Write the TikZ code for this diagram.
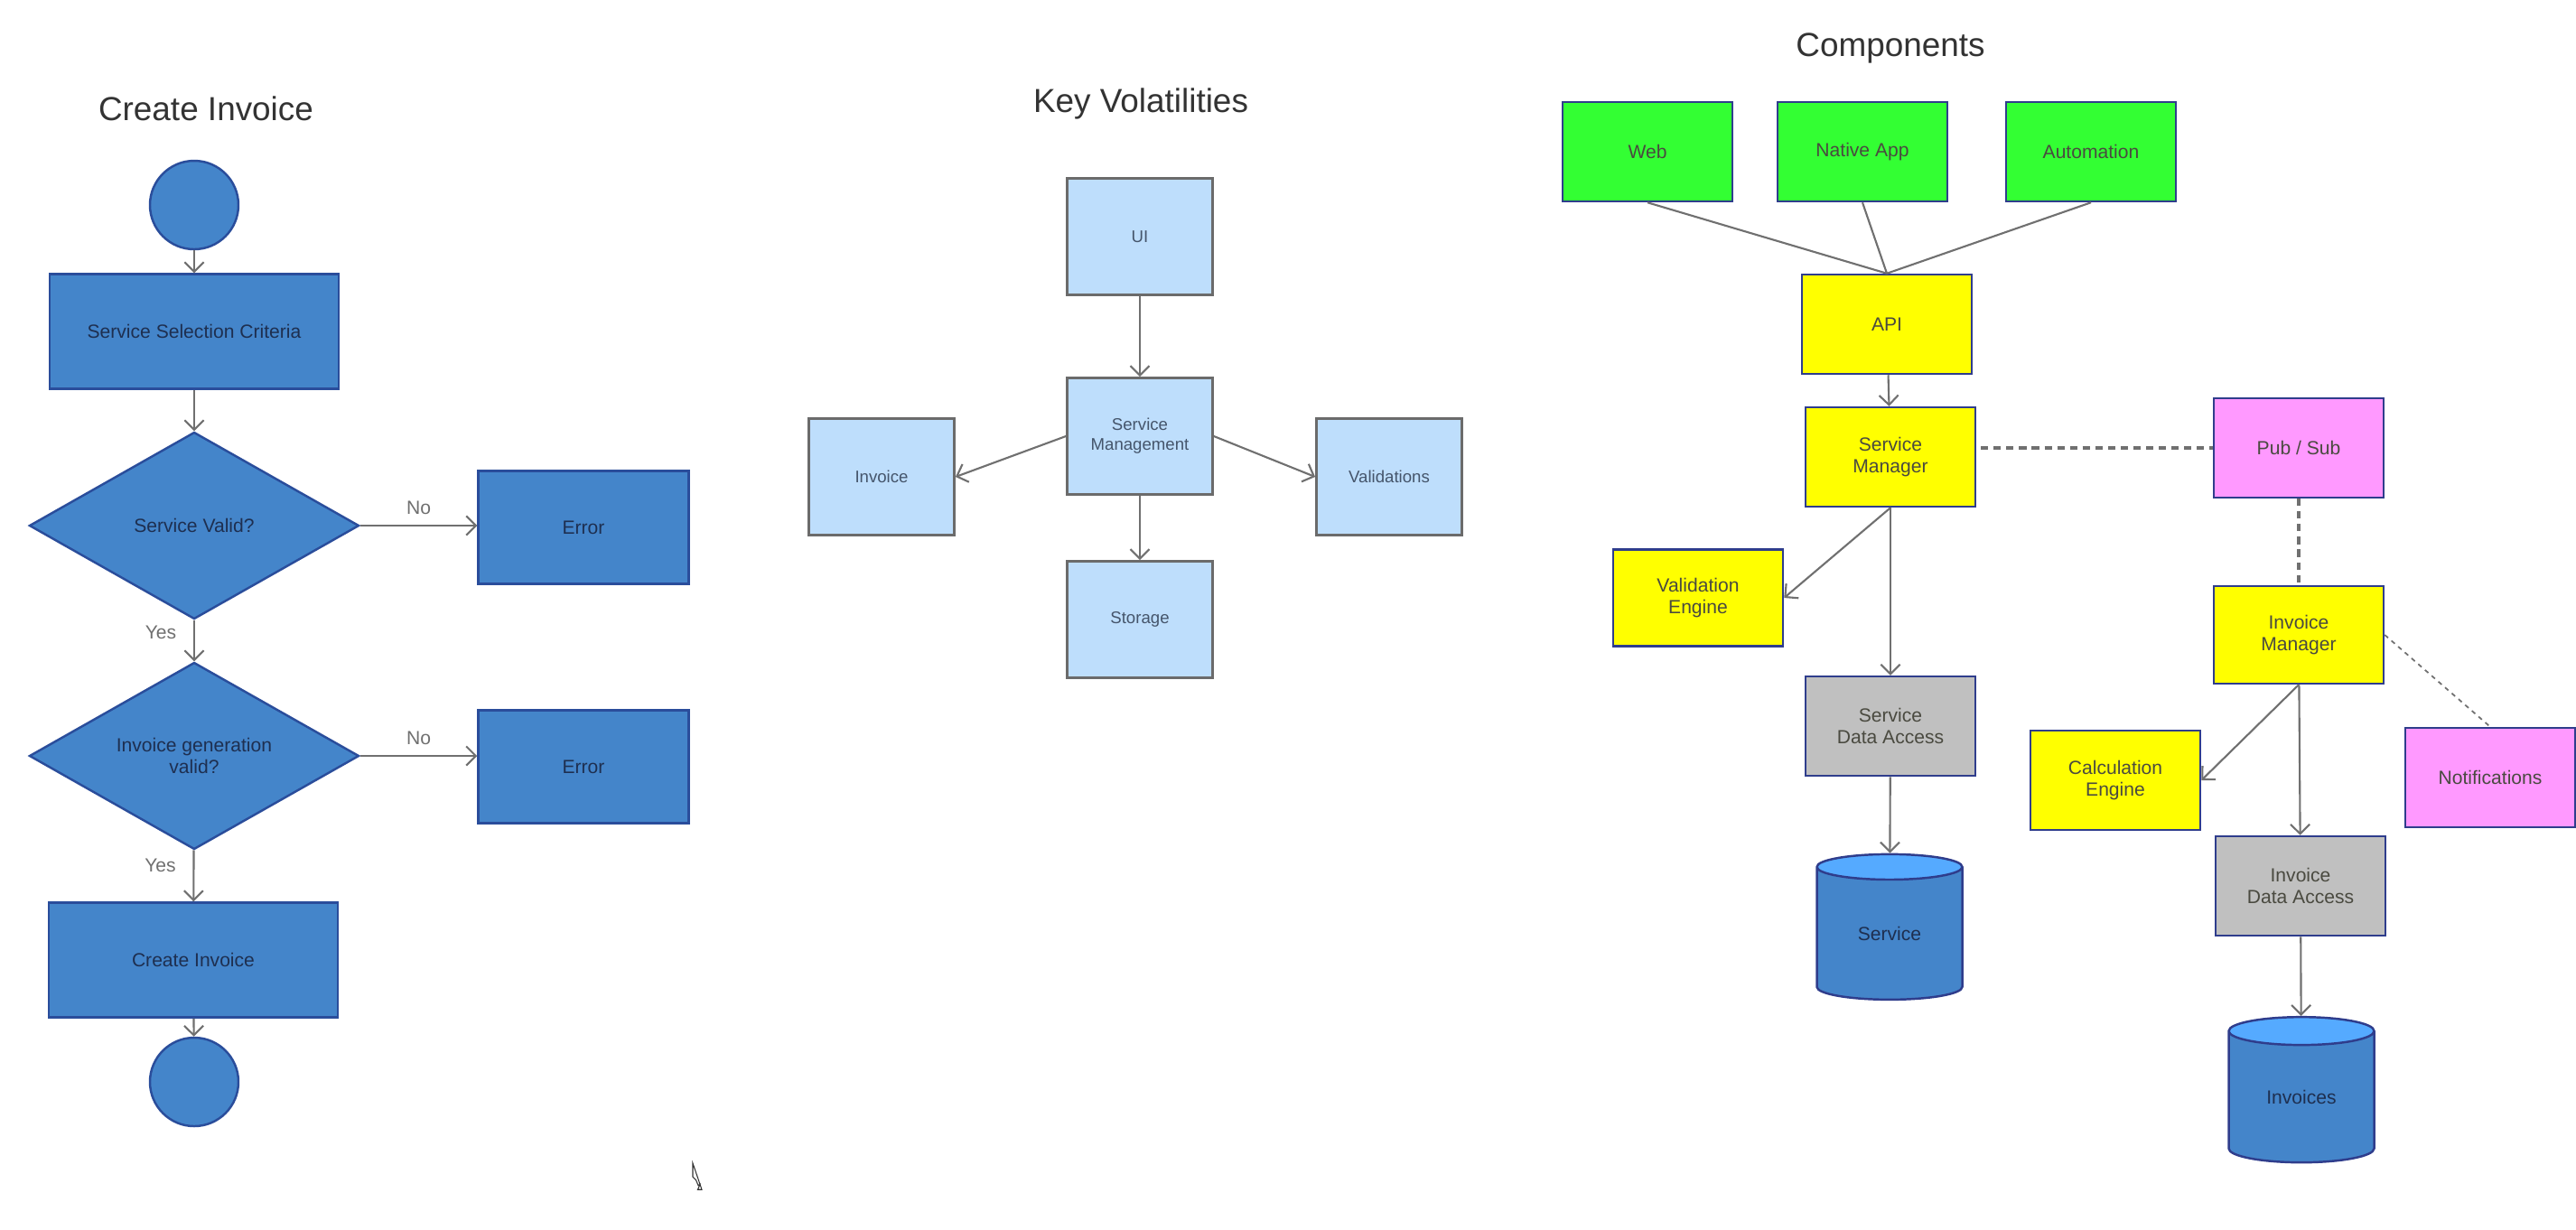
\documentclass[tikz,border=0pt]{standalone}
\usepackage{fontspec}
\setmainfont{Liberation Sans}
\usetikzlibrary{shapes.geometric}
\usetikzlibrary{arrows.meta}

\definecolor{flowblue}{HTML}{4485CA}
\definecolor{flowedge}{HTML}{2A4D9B}
\definecolor{flowtext}{HTML}{1E2F50}
\definecolor{volfill}{HTML}{BEDEFC}
\definecolor{voledge}{HTML}{6B6B6B}
\definecolor{voltext}{HTML}{45556B}
\definecolor{compedge}{HTML}{2F3D8C}
\definecolor{compgreen}{HTML}{33FF33}
\definecolor{compyellow}{HTML}{FFFF00}
\definecolor{comppink}{HTML}{FF99FF}
\definecolor{compgray}{HTML}{C0C0C0}
\definecolor{comptext}{HTML}{4A4A40}
\definecolor{dbtop}{HTML}{55AAFF}
\definecolor{linkgray}{HTML}{707070}
\definecolor{titlegray}{HTML}{333333}

\begin{document}
\begin{tikzpicture}[>={Straight Barb[length=3pt,width=6pt]}]

		\tikzset{
			title/.style={font=\fontsize{10.5}{12}\selectfont, text=titlegray},
			flowbox/.style={draw=flowedge, fill=flowblue, line width=0.7pt, text=flowtext,
				font=\fontsize{6}{7}\selectfont, align=center, inner sep=0pt,
				minimum width=3.2cm, minimum height=1.27cm},
			flowdiamond/.style={flowbox, diamond, aspect=1.76,
				minimum width=3.65cm, minimum height=2.07cm},
			flowterm/.style={flowbox, circle, minimum size=0.98cm},
			errbox/.style={flowbox, minimum width=2.33cm, minimum height=1.25cm},
			volbox/.style={draw=voledge, fill=volfill, line width=0.8pt, text=voltext,
				font=\fontsize{5.3}{6.3}\selectfont, align=center, inner sep=0pt,
				minimum width=1.61cm, minimum height=1.29cm},
			compbox/.style={draw=compedge, line width=0.7pt, text=comptext,
				font=\fontsize{6}{7}\selectfont, align=center, inner sep=0pt,
				minimum width=1.88cm, minimum height=1.1cm},
			dbcyl/.style={cylinder, shape border rotate=90, aspect=0.4, draw=compedge,
				line width=0.7pt, cylinder uses custom fill, cylinder end fill=dbtop,
				cylinder body fill=flowblue, text=flowtext, font=\fontsize{6}{7}\selectfont,
				inner sep=0pt, minimum width=1.61cm, minimum height=1.61cm},
			link/.style={draw=linkgray, line width=0.6pt},
			label/.style={text=linkgray, font=\fontsize{6}{7}\selectfont},
			dashlink/.style={draw=linkgray, line width=0.9pt, dash pattern=on 2.3pt off 1.7pt},
			dotlink/.style={draw=linkgray, line width=0.5pt, dash pattern=on 1.4pt off 1.4pt},
		}

		\fill [white] (0,0) rectangle (28.52,-13.61);
		\useasboundingbox (0,0) rectangle (28.52,-13.61);

		% create invoice flow
		\node [title] (title1) at (2.28,-1.20) {Create Invoice};
		\node [flowterm] (start) at (2.15,-2.27) {};
		\node [flowbox] (ssc) at (2.15,-3.67) {Service Selection Criteria};
		\node [flowdiamond] (valid) at (2.15,-5.82) {Service Valid?};
		\node [errbox] (err1) at (6.46,-5.84) {Error};
		\node [flowdiamond] (gen) at (2.15,-8.37) {Invoice generation\\valid?};
		\node [errbox] (err2) at (6.46,-8.49) {Error};
		\node [flowbox] (create) at (2.14,-10.63) {Create Invoice};
		\node [flowterm] (stop) at (2.15,-11.98) {};

		\draw [link, ->] (start) -- (ssc);
		\draw [link, ->] (ssc) -- (valid);
		\draw [link, ->] (valid.east) -- (valid.east -| err1.west) node [label, midway, above] {No};
		\draw [link, ->] (valid) -- (gen) node [label, pos=0.3, left=2pt] {Yes};
		\draw [link, ->] (gen.east) -- (gen.east -| err2.west) node [label, midway, above] {No};
		\draw [link, ->] (gen) -- (create) node [label, pos=0.3, left=2pt] {Yes};
		\draw [link, ->] (create) -- (stop);

		% mouse pointer
		\draw [fill=white, draw=titlegray, line width=0.3pt] (7.67,-12.88) -- ++(0,-0.15) -- ++(0.035,-0.035)
			-- ++(0.025,-0.06) -- ++(0.02,0.01) -- ++(-0.025,-0.057) -- ++(0.045,0) -- cycle;

		% key volatilities
		\node [title] (title2) at (12.63,-1.15) {Key Volatilities};
		\node [volbox] (ui) at (12.62,-2.62) {UI};
		\node [volbox] (svcmgmt) at (12.62,-4.83) {Service\\Management};
		\node [volbox] (inv) at (9.76,-5.28) {Invoice};
		\node [volbox] (valids) at (15.38,-5.28) {Validations};
		\node [volbox] (storage) at (12.62,-6.86) {Storage};

		\draw [link, ->] (ui) -- (svcmgmt);
		\draw [link, ->] (svcmgmt.west) -- (inv.east);
		\draw [link, ->] (svcmgmt.east) -- (valids.west);
		\draw [link, ->] (svcmgmt) -- (storage);

		% components
		\node [title] (title3) at (20.93,-0.53) {Components};
		\node [compbox, fill=compgreen] (web) at (18.24,-1.68) {Web};
		\node [compbox, fill=compgreen] (native) at (20.62,-1.68) {Native App};
		\node [compbox, fill=compgreen] (auto) at (23.15,-1.68) {Automation};
		\node [compbox, fill=compyellow] (api) at (20.89,-3.59) {API};
		\node [compbox, fill=compyellow] (svcmgr) at (20.93,-5.06) {Service\\Manager};
		\node [compbox, fill=comppink] (pubsub) at (25.45,-4.96) {Pub / Sub};
		\node [compbox, fill=compyellow, minimum height=1.07cm] (valeng) at (18.80,-6.62) {Validation\\Engine};
		\node [compbox, fill=compyellow, minimum height=1.08cm] (invmgr) at (25.45,-7.03) {Invoice\\Manager};
		\node [compbox, fill=compgray] (sda) at (20.93,-8.04) {Service\\Data Access};
		\node [compbox, fill=compyellow] (calc) at (23.42,-8.64) {Calculation\\Engine};
		\node [compbox, fill=comppink] (notif) at (27.57,-8.61) {Notifications};
		\node [compbox, fill=compgray] (ida) at (25.47,-9.81) {Invoice\\Data Access};
		\node [dbcyl] (svcdb) at (20.92,-10.34) {Service};
		\node [dbcyl] (invdb) at (25.48,-12.15) {Invoices};

		\draw [link] (web.south) -- (api.north);
		\draw [link] (native.south) -- (api.north);
		\draw [link] (auto.south) -- (api.north);
		\draw [link, ->] (api) -- (svcmgr);
		\draw [link, ->] (svcmgr.south) -- (valeng.east);
		\draw [link, ->] (svcmgr) -- (sda);
		\draw [link, ->] (sda) -- (svcdb);
		\draw [dashlink] (pubsub.west -| svcmgr.east) ++(0.05,0) -- (pubsub.west);
		\draw [dashlink] (pubsub) -- (invmgr);
		\draw [dotlink] (invmgr.east) -- (notif.north);
		\draw [link, ->] (invmgr.south) -- (calc.east);
		\draw [link, ->] (invmgr) -- (ida);
		\draw [link, ->] (ida) -- (invdb);
		\end{tikzpicture}
\end{document}
